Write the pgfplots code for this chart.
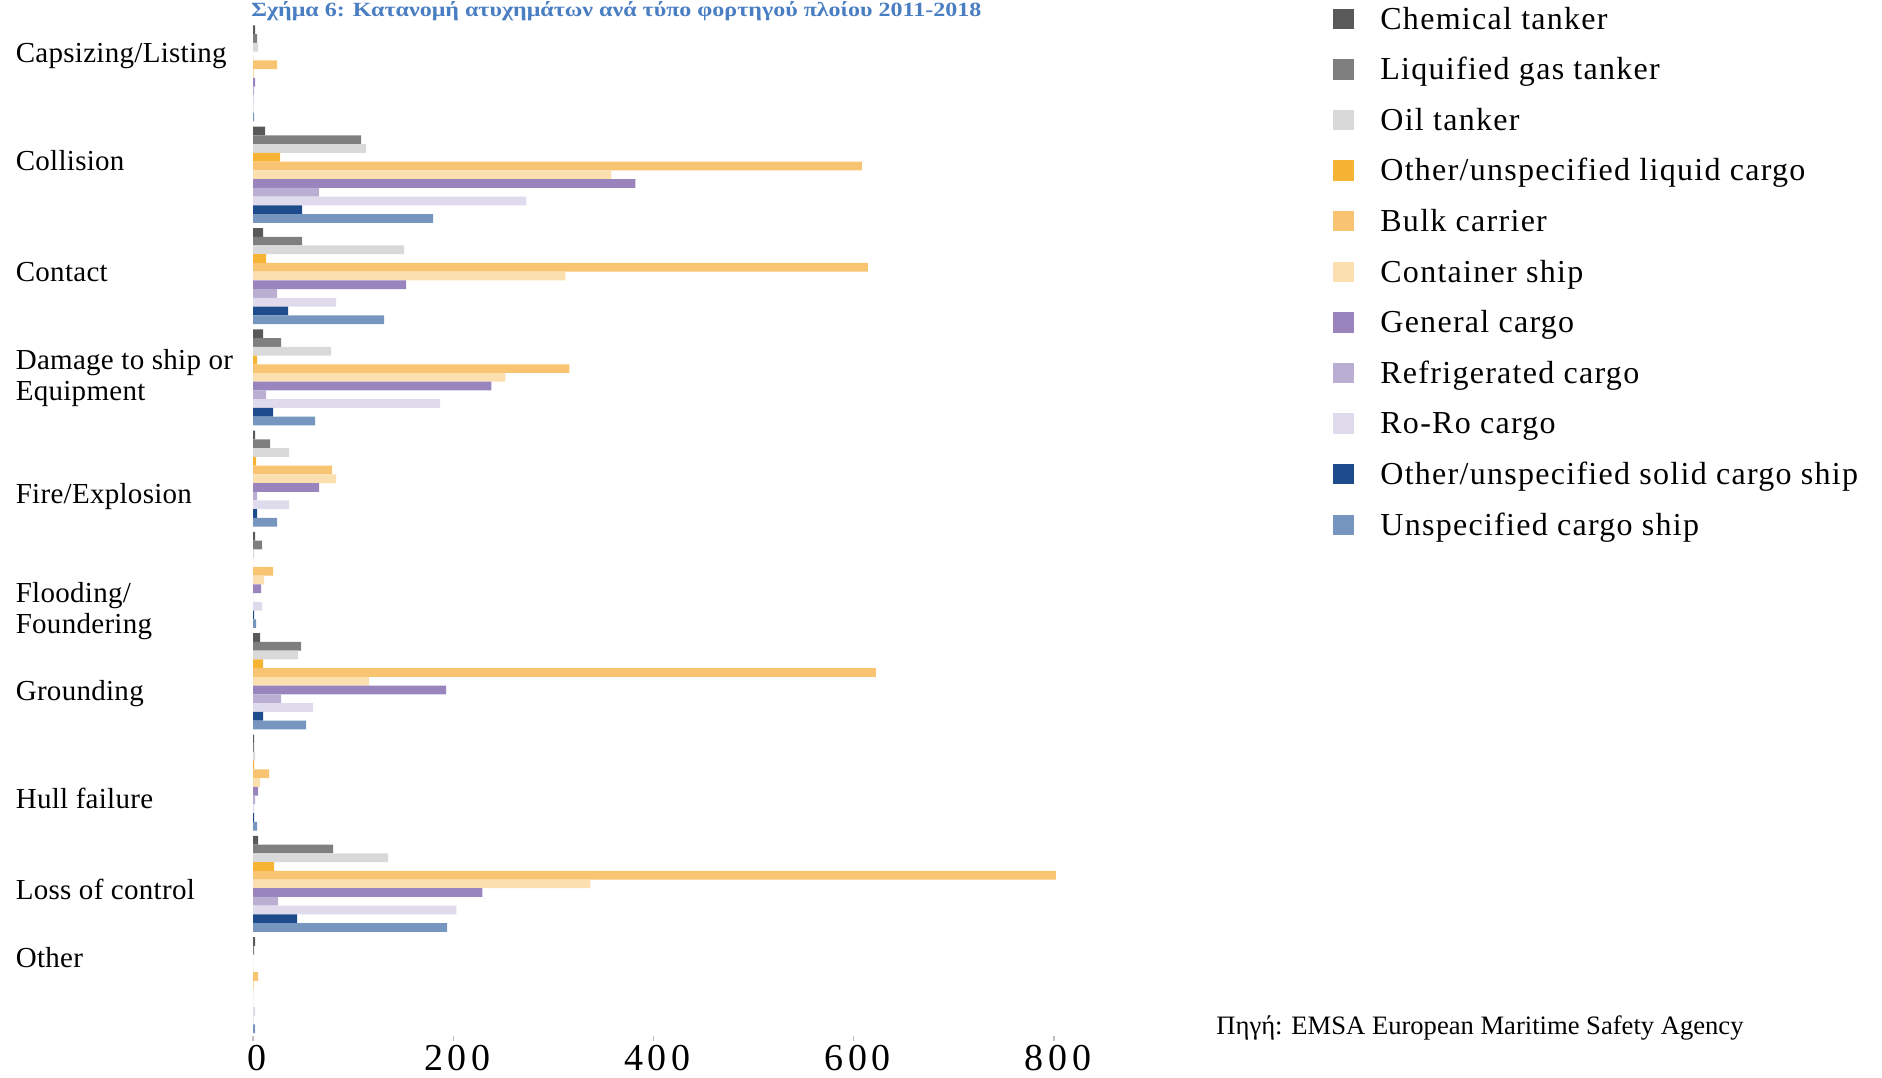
\documentclass[border=0pt]{standalone}
\usepackage{fontspec}
\setmainfont{Liberation Serif}
\newfontfamily\catfont[LetterSpace=1.0]{Liberation Serif}
\newfontfamily\legfont[LetterSpace=4.0]{Liberation Serif}
\newfontfamily\tickfont[LetterSpace=12.0]{Liberation Serif}
\usepackage{graphicx}
\usepackage{pgfplots}
\pgfplotsset{compat=1.18}
\definecolor{cChem}{HTML}{595959}
\definecolor{cLiq}{HTML}{7F7F7F}
\definecolor{cOil}{HTML}{D9D9D9}
\definecolor{cOLiq}{HTML}{F7B334}
\definecolor{cBulk}{HTML}{F8C471}
\definecolor{cCont}{HTML}{FBDFAF}
\definecolor{cGen}{HTML}{9984BE}
\definecolor{cRef}{HTML}{BAAFD3}
\definecolor{cRoRo}{HTML}{E0DBEC}
\definecolor{cOSol}{HTML}{1E4B8C}
\definecolor{cUns}{HTML}{7695BF}
\definecolor{titleblue}{HTML}{4A7EC2}
\begin{document}
\begin{tikzpicture}[x=1pt,y=1pt]
\useasboundingbox (0,0) rectangle (941,538.5);
\begin{axis}[
  at={(126.5pt,20.6pt)}, anchor=south west,
  scale only axis, width=400.5pt, height=506.5pt,
  xbar, y dir=reverse,
  xmin=0, xmax=800, ymin=-0.5, ymax=9.5,
  clip=false,
  axis line style={draw=none},
  bar width=0.0862,
  xtick={0,200,400,600,800},
  xtick pos=bottom,
  tick align=outside,
  major tick length=2.5pt,
  x tick style={draw=gray!50, line width=0.6pt},
  xticklabel style={font=\tickfont\fontsize{19}{19}\selectfont, anchor=base, inner sep=0pt, yshift=-14.6pt, xshift=2pt},
  /pgf/number format/assume math mode=true,
  ytick={-0.172,0.863,1.964,3.007,4.180,5.305,6.122,7.153,8.053,8.728},
  yticklabels={Capsizing/Listing, Collision, Contact, {Damage to ship or\\Equipment}, Fire/Explosion, {Flooding/\\Foundering}, Grounding, Hull failure, Loss of control, Other},
  y tick style={draw=none},
  yticklabel style={anchor=west, align=left, xshift=-116.3pt, inner sep=0pt, font=\catfont\fontsize{14.5}{15.6}\selectfont},
  legend cell align=left,
  legend style={at={(1.3483,1.0284)}, anchor=north west, draw=none, fill=none,
    inner sep=0pt, column sep=13.3pt, row sep=0pt,
    font=\legfont\fontsize{16}{16}\selectfont,
    nodes={inner sep=0pt, text height=17.3pt, text depth=8pt}},
  legend image code/.code={\fill[#1,draw=none] (0pt,-4.6pt) rectangle (10.2pt,5.6pt);},
]
\addplot[fill=cChem, draw=none, bar shift=-0.431] coordinates {(2,0) (12,1) (10,2) (10,3) (2,4) (2,5) (7,6) (1,7) (5,8) (2,9)};
\addplot[fill=cLiq, draw=none, bar shift=-0.3448] coordinates {(4,0) (108,1) (49,2) (28,3) (17,4) (9,5) (48,6) (1,7) (80,8) (1,9)};
\addplot[fill=cOil, draw=none, bar shift=-0.2586] coordinates {(5,0) (113,1) (151,2) (78,3) (36,4) (1,5) (45,6) (2,7) (135,8) (0,9)};
\addplot[fill=cOLiq, draw=none, bar shift=-0.1724] coordinates {(0,0) (27,1) (13,2) (4,3) (3,4) (0,5) (10,6) (1,7) (21,8) (0,9)};
\addplot[fill=cBulk, draw=none, bar shift=-0.0862] coordinates {(24,0) (608,1) (614,2) (316,3) (79,4) (20,5) (622,6) (16,7) (802,8) (5,9)};
\addplot[fill=cCont, draw=none, bar shift=0] coordinates {(1,0) (358,1) (312,2) (252,3) (83,4) (11,5) (116,6) (7,7) (337,8) (1,9)};
\addplot[fill=cGen, draw=none, bar shift=0.0862] coordinates {(2,0) (382,1) (153,2) (238,3) (66,4) (8,5) (193,6) (5,7) (229,8) (0,9)};
\addplot[fill=cRef, draw=none, bar shift=0.1724] coordinates {(1,0) (66,1) (24,2) (13,3) (4,4) (0,5) (28,6) (2,7) (25,8) (0,9)};
\addplot[fill=cRoRo, draw=none, bar shift=0.2586] coordinates {(1,0) (273,1) (83,2) (187,3) (36,4) (9,5) (60,6) (1,7) (203,8) (2,9)};
\addplot[fill=cOSol, draw=none, bar shift=0.3448] coordinates {(0,0) (49,1) (35,2) (20,3) (4,4) (1,5) (10,6) (1,7) (44,8) (0,9)};
\addplot[fill=cUns, draw=none, bar shift=0.431] coordinates {(1,0) (180,1) (131,2) (62,3) (24,4) (3,5) (53,6) (4,7) (194,8) (2,9)};
\legend{Chemical tanker, Liquified gas tanker, Oil tanker, Other/unspecified liquid cargo, Bulk carrier, Container ship, General cargo, Refrigerated cargo, Ro-Ro cargo, Other/unspecified solid cargo ship, Unspecified cargo ship}
\end{axis}
\node[anchor=base west, inner sep=0pt, text=titleblue] at (125.5,530) {\resizebox{365pt}{7.5pt}{\bfseries Σχήμα 6: Κατανομή ατυχημάτων ανά τύπο φορτηγού πλοίου 2011-2018}};
\node[anchor=base west, inner sep=0pt] at (608,21.5) {\fontsize{13.3}{14}\selectfont Πηγή: EMSA European Maritime Safety Agency};
\end{tikzpicture}
\end{document}
